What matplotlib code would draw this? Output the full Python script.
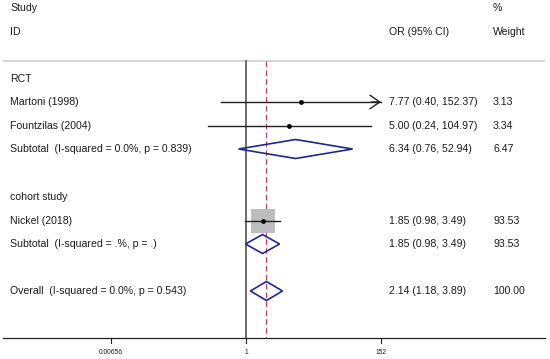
import numpy as np
import matplotlib
matplotlib.use("Agg")
import matplotlib.pyplot as plt
from matplotlib.patches import Polygon, Rectangle

plt.rcParams['font.family'] = ['Liberation Sans', 'DejaVu Sans']

# ---- data ----
labels = ["RCT", "Martoni (1998)", "Fountzilas (2004)", "Subtotal  (I-squared = 0.0%, p = 0.839)",
          "cohort study", "Nickel (2018)", "Subtotal  (I-squared = .%, p = .)",
          "Overall  (I-squared = 0.0%, p = 0.543)"]
kinds = ["header", "study", "study", "diamond", "header", "study", "diamond", "diamond"]
or_est = [np.nan, 7.77, 5.00, 6.34, np.nan, 1.85, 1.85, 2.14]
ci_lo = [np.nan, 0.40, 0.24, 0.76, np.nan, 0.98, 0.98, 1.18]
ci_hi = [np.nan, 152.37, 104.97, 52.94, np.nan, 3.49, 3.49, 3.89]
weights = [np.nan, 3.13, 3.34, 6.47, np.nan, 93.53, 93.53, 100.00]
or_text = ["", "7.77 (0.40, 152.37)", "5.00 (0.24, 104.97)", "6.34 (0.76, 52.94)", "",
           "1.85 (0.98, 3.49)", "1.85 (0.98, 3.49)", "2.14 (1.18, 3.89)"]
weight_text = ["", "3.13", "3.34", "6.47", "", "93.53", "93.53", "100.00"]
ticks = [0.00656, 1, 152]
tick_labels = ["0.00656", "1", "152"]
overall_est = 2.14

# ---- layout ----
W, H = 550, 359
row_y = [79, 102, 126, 149, 197, 221, 244, 291]
px_per_ln = 26.86
x_null = 246
fig = plt.figure(figsize=(W / 100, H / 100), dpi=100)
ax = fig.add_axes([0, 0, 1, 1])
ax.set_xscale('log')
ax.set_xlim(np.exp(-x_null / px_per_ln), np.exp((W - x_null) / px_per_ln))
ax.set_ylim(H, 0)
ax.axis('off')

fs = 7.6
tc = "#1a1a1a"
navy = "#1f2a85"
xmax_clip = ticks[-1]
xmin_clip = ticks[0]

def px2x(px):
    return np.exp((px - x_null) / px_per_ln)

y_sep, y_axis = 61, 338
# header
ax.text(px2x(10), 8, "Study", fontsize=fs, va='center', color=tc)
ax.text(px2x(10), 32, "ID", fontsize=fs, va='center', color=tc)
ax.text(px2x(389), 32, "OR (95% CI)", fontsize=fs, va='center', color=tc)
ax.text(px2x(493), 8, "%", fontsize=fs, va='center', color=tc)
ax.text(px2x(493), 32, "Weight", fontsize=fs, va='center', color=tc)

# separator and axis
ax.plot([px2x(3), px2x(545)], [y_sep, y_sep], color="#d4d4d4", lw=1.4, solid_capstyle='butt')
ax.plot([px2x(3), px2x(545)], [y_axis, y_axis], color="#222222", lw=0.9)
ax.plot([1, 1], [y_sep, y_axis], color="#444444", lw=1.1)
ax.plot([overall_est, overall_est], [y_sep, y_axis], color="#b83a3a", lw=0.8, ls=(0, (5, 3)))

for t, tl in zip(ticks, tick_labels):
    ax.plot([t, t], [y_axis, y_axis + 5], color="#222222", lw=0.8)
    ax.text(t, 352, tl, fontsize=4.8, ha='center', va='center', color=tc)

max_w = max(w for w, k in zip(weights, kinds) if k == "study")
box_max = 24
for i, (lab, k) in enumerate(zip(labels, kinds)):
    y = row_y[i]
    ax.text(px2x(10), y, lab, fontsize=fs, va='center', color=tc)
    if k == "header":
        continue
    ax.text(px2x(389), y, or_text[i], fontsize=fs, va='center', color=tc)
    ax.text(px2x(493), y, weight_text[i], fontsize=fs, va='center', color=tc)
    if k == "study":
        side = box_max * np.sqrt(weights[i] / max_w)
        cx = or_est[i]
        x0 = cx * np.exp(-side / 2 / px_per_ln)
        x1 = cx * np.exp(side / 2 / px_per_ln)
        ax.add_patch(Rectangle((x0, y - side / 2), x1 - x0, side, facecolor="#bdbdbd",
                               edgecolor='none', zorder=2))
        hi = min(ci_hi[i], xmax_clip)
        lo = max(ci_lo[i], xmin_clip)
        ax.plot([lo, hi], [y, y], color="#222222", lw=1.0, zorder=3)
        if ci_hi[i] > xmax_clip:
            ax.annotate("", xy=(hi, y), xytext=(hi * 0.7, y),
                        arrowprops=dict(arrowstyle='->,head_length=0.5,head_width=0.35',
                                        color='#222222', lw=1.0,
                                        mutation_scale=14, shrinkA=0, shrinkB=0), zorder=3)
        ax.plot([cx], [y], marker='o', ms=2.4, color='black', zorder=4)
    else:
        hh = 9.5
        pts = [(ci_lo[i], y), (or_est[i], y - hh), (ci_hi[i], y), (or_est[i], y + hh)]
        ax.add_patch(Polygon(pts, closed=True, facecolor='none', edgecolor=navy, lw=1.2, zorder=3))

fig.savefig("out.png", dpi=100)
